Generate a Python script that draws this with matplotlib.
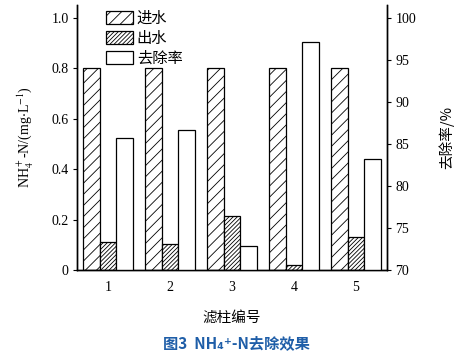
import matplotlib
matplotlib.use("Agg")
import matplotlib.pyplot as plt
import numpy as np
from matplotlib.patches import Patch

# data
columns = ["1", "2", "3", "4", "5"]
influent = [0.80, 0.80, 0.80, 0.80, 0.80]
effluent = [0.112, 0.103, 0.214, 0.020, 0.130]
removal = [85.7, 86.6, 72.9, 97.1, 83.2]

LEFT_TICKS = [0, 0.2, 0.4, 0.6, 0.8, 1.0]
LEFT_TICK_LABELS = ["0", "0.2", "0.4", "0.6", "0.8", "1.0"]
RIGHT_TICKS = [70, 75, 80, 85, 90, 95, 100]

SERIF = ["Liberation Serif", "DejaVu Serif"]
CJK = ["Noto Sans CJK SC", "DejaVu Sans"]

plt.rcParams.update({
    "mathtext.fontset": "stix",
    "hatch.linewidth": 0.6,
    "axes.linewidth": 1.0,
})

fig = plt.figure(figsize=(4.72, 3.56), dpi=100)
ax = fig.add_axes([0.163, 0.2416, 0.657, 0.7444])
ax2 = ax.twinx()

x = np.arange(1, len(columns) + 1)
w = 0.267

ax.bar(x - w, influent, w, facecolor="white", edgecolor="black",
       linewidth=0.9, hatch="///", zorder=2)
ax.bar(x, effluent, w, facecolor="white", edgecolor="black",
       linewidth=0.9, hatch="////////", zorder=2)
ax2.bar(x + w, removal, w, bottom=0, facecolor="white", edgecolor="black",
        linewidth=0.9, zorder=2)

ax.set_xlim(0.5, 5.5)
ax.set_ylim(0, 1.05)
ax2.set_ylim(70, 101.5)

ax.set_xticks(x)
ax.set_xticklabels(columns, fontfamily=SERIF, fontsize=10)
ax.set_yticks(LEFT_TICKS)
ax.set_yticklabels(LEFT_TICK_LABELS, fontfamily=SERIF, fontsize=10)
ax2.set_yticks(RIGHT_TICKS)
ax2.set_yticklabels([str(t) for t in RIGHT_TICKS], fontfamily=SERIF, fontsize=10)

ax.tick_params(axis="x", length=0, pad=8)
ax.tick_params(axis="y", direction="out", length=3, width=0.8, pad=3)
ax2.tick_params(axis="y", direction="out", length=3, width=0.8, pad=3)

for a in (ax, ax2):
    a.spines["top"].set_visible(False)

ax.set_ylabel(r"NH$_4^+$-N/(mg$\cdot$L$^{-1}$)", fontfamily=SERIF,
              fontsize=10, labelpad=12)
ax2.set_ylabel("去除率/%", fontfamily=CJK, fontsize=10.5, labelpad=16)
ax.set_xlabel("滤柱编号", fontfamily=CJK, fontsize=10.5, labelpad=12)

handles = [
    Patch(facecolor="white", edgecolor="black", hatch="///", linewidth=0.9),
    Patch(facecolor="white", edgecolor="black", hatch="////////", linewidth=0.9),
    Patch(facecolor="white", edgecolor="black", linewidth=0.9),
]
ax2.legend(handles, ["进水", "出水", "去除率"], loc="upper left",
           bbox_to_anchor=(0.075, 1.005), frameon=False,
           prop={"family": CJK, "size": 11},
           handlelength=1.75, handleheight=1.0, handletextpad=0.25,
           labelspacing=0.2, borderaxespad=0.0)

fig.text(0.50, 0.035, "图3  NH₄⁺-N去除效果", ha="center", va="center",
         fontfamily=CJK, fontsize=11, fontweight="bold", color="#1f5ea8")

fig.savefig("out.png", dpi=100)
